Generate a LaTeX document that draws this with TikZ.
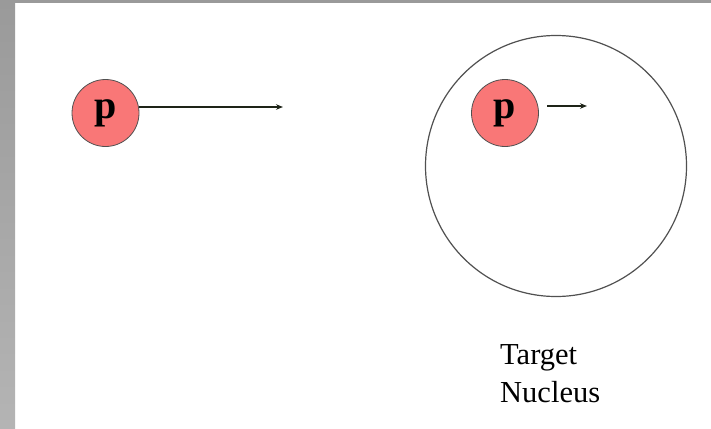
\documentclass[tikz,border=0pt]{standalone}
\usepackage{fontspec}
\setmainfont{Liberation Serif}
\usetikzlibrary{arrows.meta}
\definecolor{proton}{HTML}{F97777}
\definecolor{edge}{HTML}{505050}
\definecolor{arrowc}{HTML}{1E2418}
\definecolor{stripTop}{HTML}{9A9A9A}
\definecolor{stripBot}{HTML}{B4B4B4}
\begin{document}
\begin{tikzpicture}[x=1pt,y=-1pt,
  proton/.style={circle,fill=proton,draw=edge,line width=0.8pt,minimum size=67pt,inner sep=0pt,font=\fontsize{40}{40}\selectfont\bfseries},
  motion/.style={draw=arrowc,line width=1.5pt,-{Stealth[length=7pt,width=5.5pt]}},
  label/.style={font=\fontsize{30.5}{38}\selectfont,align=left,anchor=north west,inner sep=0pt}]
\useasboundingbox (0,0) rectangle (711,428);
\fill[white] (0,0) rectangle (711,428);
\shade[top color=stripTop,bottom color=stripBot] (0,0) rectangle (15,428);
\fill[stripTop] (0,0) rectangle (711,3);
% target nucleus
\node[circle,draw=edge,line width=1.2pt,minimum size=261pt,inner sep=0pt] (nucleus) at (556,166) {};
% incoming proton
\node[proton] (p1) at (105.5,113) {p};
\coordinate (a1s) at (139,107);
\coordinate (a1e) at (283,107);
\draw[motion] (a1s) -- (a1e);
% proton in nucleus
\node[proton] (p2) at (505,113) {p};
\coordinate (a2s) at (547,106);
\coordinate (a2e) at (587,106);
\draw[motion] (a2s) -- (a2e);
\node[label] (lbl) at (500,344) {Target\\Nucleus};
\end{tikzpicture}
\end{document}
